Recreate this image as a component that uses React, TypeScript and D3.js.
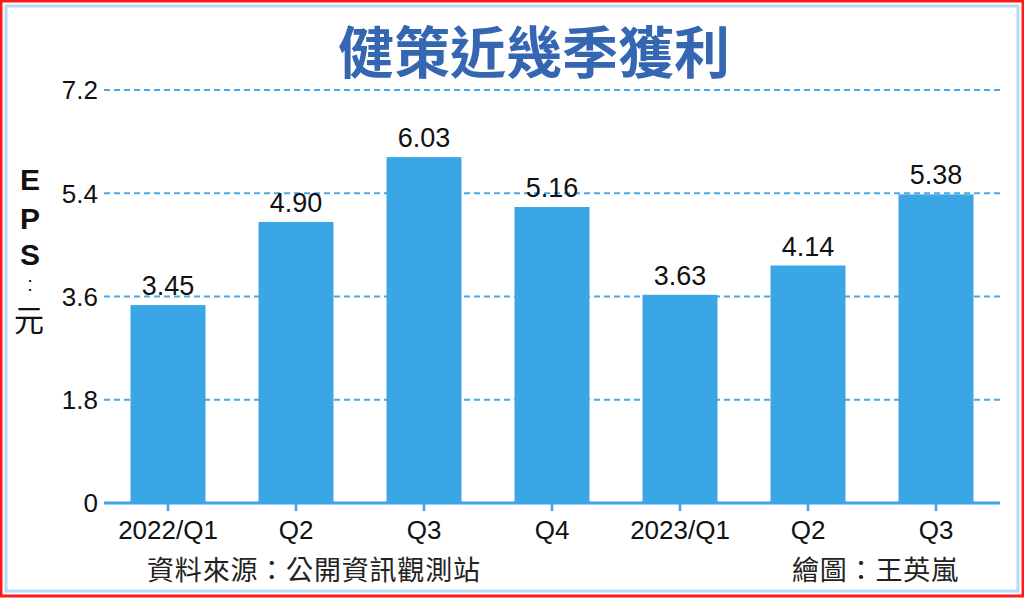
import React from "react";
import * as d3 from "d3";

const categories = ["2022/Q1", "Q2", "Q3", "Q4", "2023/Q1", "Q2 ", "Q3 "];
const tickLabels = ["2022/Q1", "Q2", "Q3", "Q4", "2023/Q1", "Q2", "Q3"];
const values = [3.45, 4.9, 6.03, 5.16, 3.63, 4.14, 5.38];
const yTicks = [0, 1.8, 3.6, 5.4, 7.2];
const title = "健策近幾季獲利";
const source = "資料來源：公開資訊觀測站";
const credit = "繪圖：王英嵐";

const W = 1024;
const H = 598;
const LATIN = "'Liberation Sans', Arial, sans-serif";
const CJK = "'Noto Sans CJK TC', 'Noto Sans CJK SC', sans-serif";

export default function App() {
  const x = d3.scaleBand<string>().domain(categories).range([104, 1000]).paddingInner(0.414).paddingOuter(0.207);
  const y = d3.scaleLinear().domain([0, 7.2]).range([503, 90]);
  const barColor = "#3aa6e6";
  const gridColor = "#4aa9e6";

  return (
    <div style={{ position: "absolute", left: 0, top: 0, width: W, height: H }}>
      <svg width={W} height={H} style={{ display: "block", background: "#fff" }}>
        <rect x={1} y={1} width={W - 2} height={H - 3} fill="#fff" stroke="#ff1a1a" strokeWidth={3} />
        <rect x={6} y={6} width={W - 12} height={H - 13} fill="none" stroke="#b9daf6" strokeWidth={3} />

        <text x={534} y={73} textAnchor="middle" fontFamily={CJK} fontWeight={700} fontSize={56} fill="#3566b2">
          {title}
        </text>

        {yTicks.filter((t) => t > 0).map((t) => (
          <line key={"g" + t} x1={104} x2={1000} y1={y(t)} y2={y(t)} stroke={gridColor} strokeWidth={2} strokeDasharray="6,4" />
        ))}
        {yTicks.map((t) => (
          <text key={"yt" + t} x={98} y={y(t)} dy="0.36em" textAnchor="end" fontFamily={LATIN} fontSize={26} fill="#111">
            {t === 0 ? "0" : t.toFixed(1)}
          </text>
        ))}

        {categories.map((c, i) => (
          <g key={c}>
            <rect x={x(c)!} y={y(values[i])} width={x.bandwidth()} height={y(0) - y(values[i])} fill={barColor} />
            <text x={x(c)! + x.bandwidth() / 2} y={y(values[i]) - 10} textAnchor="middle" fontFamily={LATIN} fontSize={27} fill="#111">
              {values[i].toFixed(2)}
            </text>
            <line x1={x(c)! + x.bandwidth() / 2} x2={x(c)! + x.bandwidth() / 2} y1={503} y2={511} stroke={barColor} strokeWidth={2.5} />
            <text x={x(c)! + x.bandwidth() / 2} y={539} textAnchor="middle" fontFamily={LATIN} fontSize={26} fill="#111">
              {tickLabels[i]}
            </text>
          </g>
        ))}
        <line x1={104} x2={1000} y1={503} y2={503} stroke={barColor} strokeWidth={3} />

        <g fontFamily={LATIN} fontWeight={700} fontSize={30} fill="#111" textAnchor="middle">
          <text x={30} y={190}>E</text>
          <text x={30} y={229}>P</text>
          <text x={30} y={265}>S</text>
        </g>
        <text x={30} y={291} textAnchor="middle" fontFamily={LATIN} fontSize={20} fill="#111">:</text>
        <text x={29} y={331} textAnchor="middle" fontFamily={CJK} fontSize={30} fill="#111">元</text>

        <text x={147} y={580} fontFamily={CJK} fontSize={27} fill="#222" textLength={333}>{source}</text>
        <text x={792} y={580} fontFamily={CJK} fontSize={27} fill="#222" textLength={166}>{credit}</text>
      </svg>
    </div>
  );
}
